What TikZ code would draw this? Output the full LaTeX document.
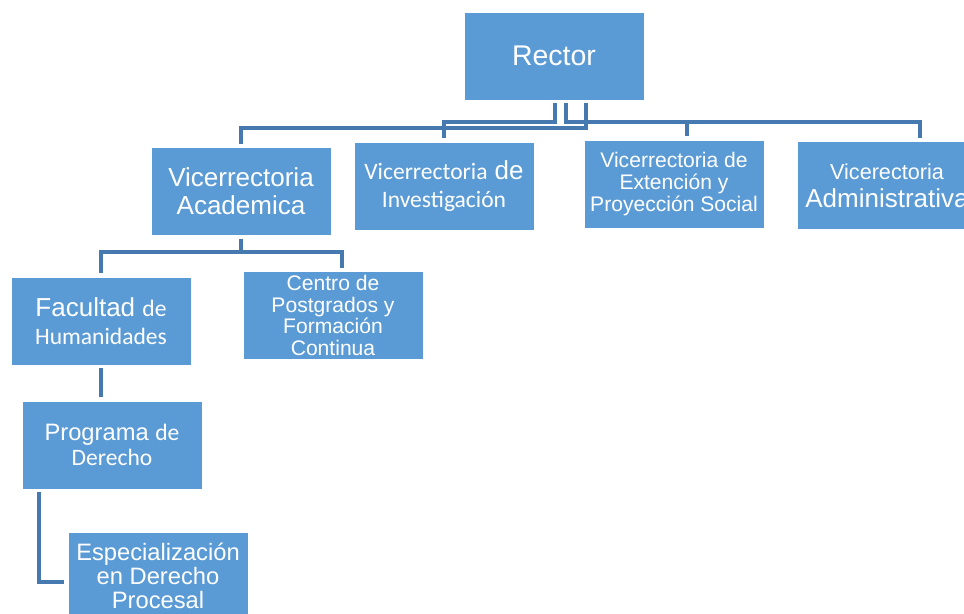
\documentclass[tikz,border=0pt]{standalone}
\usepackage{fontspec}
\setmainfont{Liberation Sans}
\newfontfamily\calibrifont{Carlito}
\usetikzlibrary{positioning}
\definecolor{cajaazul}{HTML}{5B9BD5}
\definecolor{lineaazul}{HTML}{4779B1}
\newcommand{\letraA}{\fontsize{14.8pt}{16pt}\selectfont}
\newcommand{\letraB}{\fontsize{12pt}{12.3pt}\selectfont}
\newcommand{\letraC}{\calibrifont\fontsize{13.4pt}{15.4pt}\selectfont}
\newcommand{\letraD}{\fontsize{13.5pt}{13.8pt}\selectfont}
\tikzset{
  caja/.style={draw=white, line width=0.4pt, fill=cajaazul, text=white, inner sep=1pt,
               minimum width=3.6cm, minimum height=1.76cm, align=center},
  linea/.style={draw=lineaazul, line width=2.1pt, shorten <=0.06cm, shorten >=0.07cm},
}
\begin{document}
\begin{tikzpicture}[x=0.02cm, y=-0.02cm]
  \useasboundingbox (0,0) rectangle (964,614);
  \node[caja, font=\fontsize{16.2pt}{18pt}\selectfont] (rector) at (554,56) {Rector};
  \node[caja, font=\letraA] (vacad) at (241,191.5) {Vicerrectoria\\Academica};
  \node[caja, font=\letraA] (vinv) at (444,186) {{\letraC Vicerrectoria} de\\{\letraC Investigación}};
  \node[caja, font=\letraB] (vext) at (674,184) {Vicerrectoria de\\Extención y\\Proyección Social};
  \node[caja, font=\letraA] (vadm) at (887,185.5) {{\fontsize{12.3pt}{13pt}\selectfont Vicerectoria}\\Administrativa};
  \node[caja, font=\letraA] (fac) at (101,321) {Facultad {\letraC de}\\{\letraC Humanidades}};
  \node[caja, font=\letraB] (cpf) at (333,315.5) {Centro de\\Postgrados y\\Formación\\Continua};
  \node[caja, font=\letraD] (prog) at (112,445) {Programa {\letraC de}\\{\letraC Derecho}};
  \node[caja, font=\letraD] (esp) at (158,576) {Especialización\\en Derecho\\Procesal};
  % niveles de las barras
  \coordinate (barraA) at (0,122);
  \coordinate (barraB) at (0,128);
  \coordinate (barraC) at (0,252);
  \draw[linea] ([xshift=0.02cm]rector.south) |- (vinv.north |- barraA) -- (vinv.north);
  \draw[linea] ([xshift=0.24cm]rector.south) |- ([xshift=0.26cm]vext.north |- barraA) -- ([xshift=0.26cm]vext.north);
  \draw[linea] ([xshift=0.24cm]rector.south) |- ([xshift=0.66cm]vadm.north |- barraA) -- ([xshift=0.66cm]vadm.north);
  \draw[linea] ([xshift=0.64cm]rector.south) |- (vacad.north |- barraB) -- (vacad.north);
  \draw[linea] (vacad.south) |- (fac.north |- barraC) -- (fac.north);
  \draw[linea] (vacad.south) |- ([xshift=0.18cm]cpf.north |- barraC) -- ([xshift=0.18cm]cpf.north);
  \draw[linea] (fac.south) -- (fac.south |- prog.north);
  \draw[linea] ([xshift=-1.46cm]prog.south) |- ([yshift=-0.12cm]esp.west);
\end{tikzpicture}
\end{document}
